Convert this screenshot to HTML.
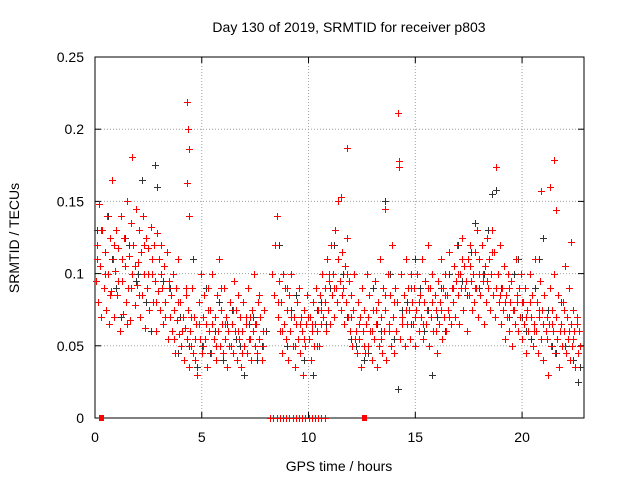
<!DOCTYPE html>
<html><head><meta charset="utf-8"><style>
body{margin:0;background:#fff;font-family:"Liberation Sans",sans-serif}
svg text{font-family:"Liberation Sans",sans-serif;font-size:14px;fill:#000}
</style></head><body>
<svg id="chart" width="640" height="480">
<g id="grid"></g>
<g id="axes"></g>
<g id="marks"></g>
<text x="349" y="32" text-anchor="middle">Day 130 of 2019, SRMTID for receiver p803</text>
<text x="339" y="471" text-anchor="middle">GPS time / hours</text>
<text x="0" y="0" text-anchor="middle" transform="translate(19,238) rotate(-90)">SRMTID / TECUs</text>
</svg>
<script>
const xTicks=[0,5,10,15,20];
const yTicks=[0,0.05,0.1,0.15,0.2,0.25];
const yTickLabels=["0","0.05","0.1","0.15","0.2","0.25"];
// red series as [hour, TECU] pairs
const redA=[[0.05,0.095],[0.1,0.12],[0.15,0.08],[0.2,0.148],[0.25,0.105],[0.3,0.07],[0.35,0.13],[0.4,0.09],[0.45,0.115],[0.5,0.075],[0.55,0.14],[0.6,0.1],[0.65,0.065],[0.7,0.125],[0.75,0.088],[0.8,0.165],[0.85,0.11],[0.9,0.07],[0.95,0.102],[1.0,0.13],[1.05,0.085],[1.1,0.118],[1.15,0.06],[1.2,0.14],[1.25,0.095],[1.3,0.072],[1.35,0.125],[1.4,0.105],[1.45,0.08],[1.5,0.15],[1.55,0.09],[1.6,0.112],[1.65,0.068],[1.7,0.135],[1.75,0.1],[1.8,0.12],[1.85,0.078],[1.9,0.145],[1.95,0.092],[2.0,0.108],[2.05,0.13],[2.1,0.07],[2.15,0.115],[2.2,0.085],[2.25,0.14],[2.3,0.1],[2.35,0.062],[2.4,0.125],[2.45,0.09],[2.5,0.118],[2.55,0.075],[2.6,0.132],[2.65,0.1],[2.7,0.08],[2.75,0.12],[2.8,0.095],[2.85,0.06],[2.9,0.128],[2.95,0.088],[3.0,0.11],[3.05,0.075],[3.1,0.12],[3.15,0.09],[3.2,0.065],[3.25,0.105],[3.3,0.08],[3.35,0.115],[3.4,0.055],[3.45,0.095],[3.5,0.07],[3.55,0.085],[3.6,0.06],[3.65,0.1],[3.7,0.075],[3.75,0.045],[3.8,0.09],[3.85,0.068],[3.9,0.11],[3.95,0.058],[4.0,0.08],[4.05,0.05],[4.1,0.07],[4.15,0.04],[4.2,0.062],[4.25,0.085],[4.3,0.055],[4.35,0.075],[4.4,0.035],[4.45,0.06],[4.5,0.05],[4.55,0.09],[4.6,0.045],[4.65,0.07],[4.7,0.04],[4.75,0.065],[4.8,0.03],[4.85,0.08],[4.9,0.055],[4.95,0.1],[5.0,0.045],[5.05,0.07],[5.1,0.085],[5.15,0.055],[5.2,0.065],[5.25,0.035],[5.3,0.09],[5.35,0.06],[5.4,0.075],[5.45,0.045],[5.5,0.1],[5.55,0.055],[5.6,0.07],[5.65,0.04],[5.7,0.085],[5.75,0.06],[5.8,0.11],[5.85,0.05],[5.9,0.075],[5.95,0.065],[6.0,0.045],[6.05,0.09],[6.1,0.055],[6.15,0.07],[6.2,0.035],[6.25,0.06],[6.3,0.08],[6.35,0.05],[6.4,0.065],[6.45,0.045],[6.5,0.095],[6.55,0.06],[6.6,0.075],[6.65,0.04],[6.7,0.085],[6.75,0.055],[6.8,0.07],[6.85,0.035],[6.9,0.06],[6.95,0.08],[7.0,0.05],[7.05,0.065],[7.1,0.045],[7.15,0.09],[7.2,0.055],[7.25,0.07],[7.3,0.04],[7.35,0.075],[7.4,0.06],[7.45,0.1],[7.5,0.05],[7.55,0.065],[7.6,0.045],[7.65,0.08],[7.7,0.055],[7.75,0.07],[7.8,0.04],[7.85,0.06],[7.9,0.075],[8.3,0.1],[8.4,0.085],[8.45,0.12],[8.5,0.14],[8.55,0.07],[8.6,0.095],[8.65,0.06],[8.7,0.08],[8.75,0.045],[8.8,0.1],[8.85,0.065],[8.9,0.09],[8.95,0.055],[9.0,0.075],[9.05,0.04],[9.1,0.085],[9.15,0.06],[9.2,0.1],[9.25,0.05],[9.3,0.07],[9.35,0.035],[9.4,0.065],[9.45,0.08],[9.5,0.055],[9.55,0.09],[9.6,0.045],[9.65,0.07],[9.7,0.06],[9.75,0.03],[9.8,0.075],[9.85,0.05],[9.9,0.065],[9.95,0.085],[10.0,0.055],[10.05,0.07],[10.1,0.04],[10.15,0.06],[10.2,0.08],[10.25,0.05],[10.3,0.065],[10.35,0.09],[10.4,0.06],[10.45,0.075],[10.5,0.05],[10.55,0.085],[10.6,0.065],[10.65,0.1],[10.7,0.07],[10.75,0.09],[10.8,0.06],[10.85,0.11],[10.9,0.075],[10.95,0.095],[11.0,0.065],[11.05,0.12],[11.1,0.085],[11.15,0.1],[11.2,0.07],[11.25,0.13],[11.3,0.09],[11.35,0.08],[11.4,0.15],[11.45,0.095],[11.5,0.075],[11.55,0.115],[11.6,0.09],[11.65,0.065],[11.7,0.105],[11.75,0.08],[11.8,0.125],[11.85,0.07],[11.9,0.095],[11.95,0.06],[12.0,0.085],[12.05,0.05],[12.1,0.075],[12.15,0.1],[12.2,0.06],[12.25,0.045],[12.3,0.08],[12.35,0.055],[12.4,0.07],[12.45,0.035],[12.5,0.09],[12.55,0.06],[12.6,0.075],[12.65,0.045],[12.7,0.065],[12.75,0.1],[12.8,0.05],[12.85,0.085],[12.9,0.06],[12.95,0.04],[13.0,0.075],[13.05,0.055],[13.1,0.095],[13.15,0.065],[13.2,0.035],[13.25,0.08],[13.3,0.05],[13.35,0.11],[13.4,0.07],[13.45,0.045],[13.5,0.09],[13.55,0.06],[13.6,0.075],[13.65,0.04],[13.7,0.1],[13.75,0.065],[13.8,0.085],[13.85,0.05],[13.9,0.12],[13.95,0.07],[14.0,0.045],[14.05,0.09],[14.1,0.06],[14.15,0.08],[14.3,0.055],[14.35,0.1],[14.4,0.07],[14.45,0.085],[14.5,0.05],[14.55,0.11],[14.6,0.065],[14.65,0.09],[14.7,0.075],[14.75,0.055],[14.8,0.1],[14.85,0.08],[14.9,0.065],[14.95,0.09],[15.0,0.05],[15.05,0.075],[15.1,0.1],[15.15,0.06],[15.2,0.085],[15.25,0.07],[15.3,0.11],[15.35,0.055],[15.4,0.08],[15.45,0.095],[15.5,0.065],[15.55,0.075],[15.6,0.12],[15.65,0.05],[15.7,0.09],[15.75,0.07],[15.8,0.1],[15.85,0.06],[15.9,0.085],[15.95,0.075],[16.0,0.045],[16.05,0.095],[16.1,0.065],[16.15,0.08],[16.2,0.11],[16.25,0.055],[16.3,0.09],[16.35,0.07],[16.4,0.1],[16.45,0.06],[16.5,0.085],[16.55,0.075],[16.6,0.115],[16.65,0.065],[16.7,0.09],[16.75,0.08],[16.8,0.105],[16.85,0.07],[16.9,0.095],[16.95,0.12],[17.0,0.085],[17.05,0.065],[17.1,0.1],[17.15,0.09],[17.2,0.125],[17.25,0.075],[17.3,0.105],[17.35,0.09],[17.4,0.06],[17.45,0.11],[17.5,0.085],[17.55,0.12],[17.6,0.095],[17.65,0.075],[17.7,0.1],[17.75,0.08],[17.8,0.115],[17.85,0.09],[17.9,0.13],[17.95,0.07],[18.0,0.1],[18.05,0.085],[18.1,0.12],[18.15,0.095],[18.2,0.065],[18.25,0.105],[18.3,0.08],[18.35,0.125],[18.4,0.09],[18.45,0.11],[18.5,0.075],[18.55,0.1],[18.6,0.13],[18.65,0.085],[18.7,0.115],[18.75,0.07],[18.85,0.1],[18.9,0.08],[18.95,0.12],[19.0,0.065],[19.05,0.09],[19.1,0.075],[19.15,0.105],[19.2,0.055],[19.25,0.085],[19.3,0.07],[19.35,0.1],[19.4,0.06],[19.45,0.08],[19.5,0.095],[19.55,0.05],[19.6,0.075],[19.65,0.065],[19.7,0.11],[19.75,0.08],[19.8,0.06],[19.85,0.09],[19.9,0.07],[19.95,0.1],[20.0,0.055],[20.05,0.08],[20.1,0.065],[20.15,0.09],[20.2,0.045],[20.25,0.075],[20.3,0.06],[20.35,0.1],[20.4,0.07],[20.45,0.085],[20.5,0.05],[20.55,0.065],[20.6,0.11],[20.65,0.06],[20.7,0.08],[20.75,0.045],[20.8,0.07],[20.85,0.095],[20.9,0.055],[20.95,0.075],[21.0,0.04],[21.05,0.085],[21.1,0.06],[21.15,0.07],[21.2,0.03],[21.25,0.065],[21.3,0.09],[21.35,0.05],[21.4,0.075],[21.45,0.06],[21.5,0.1],[21.55,0.045],[21.6,0.07],[21.65,0.055],[21.7,0.085],[21.75,0.035],[21.8,0.065],[21.85,0.05],[21.9,0.08],[21.95,0.06],[22.0,0.105],[22.05,0.045],[22.1,0.07],[22.15,0.055],[22.2,0.09],[22.25,0.04],[22.3,0.065],[22.35,0.05],[22.4,0.075],[22.45,0.06],[22.5,0.035],[22.55,0.07],[22.6,0.045],[22.65,0.06],[22.7,0.05]];
const redB=[[0.08,0.11],[0.28,0.13],[0.48,0.1],[0.68,0.085],[0.88,0.12],[1.08,0.095],[1.28,0.11],[1.48,0.065],[1.68,0.09],[1.88,0.105],[2.08,0.085],[2.28,0.12],[2.48,0.1],[2.68,0.11],[2.88,0.08],[3.08,0.1],[3.28,0.07],[3.48,0.09],[3.68,0.055],[3.88,0.08],[4.08,0.06],[4.28,0.09],[4.48,0.07],[4.68,0.055],[4.88,0.065],[5.08,0.05],[5.28,0.075],[5.48,0.065],[5.68,0.05],[5.88,0.09],[6.08,0.065],[6.28,0.05],[6.48,0.075],[6.68,0.06],[6.88,0.045],[7.08,0.07],[7.28,0.055],[7.48,0.065],[7.68,0.085],[7.88,0.05],[8.58,0.08],[8.78,0.06],[8.98,0.09],[9.18,0.07],[9.38,0.05],[9.58,0.065],[9.78,0.055],[9.98,0.07],[10.18,0.065],[10.38,0.05],[10.58,0.075],[10.78,0.08],[10.98,0.1],[11.18,0.09],[11.38,0.11],[11.58,0.085],[11.78,0.1],[11.98,0.07],[12.18,0.055],[12.38,0.065],[12.58,0.05],[12.78,0.07],[12.98,0.06],[13.18,0.075],[13.38,0.055],[13.58,0.085],[13.78,0.06],[13.98,0.08],[14.38,0.065],[14.58,0.075],[14.78,0.09],[14.98,0.07],[15.18,0.08],[15.38,0.065],[15.58,0.09],[15.78,0.08],[15.98,0.06],[16.18,0.075],[16.38,0.085],[16.58,0.07],[16.78,0.09],[16.98,0.1],[17.18,0.11],[17.38,0.095],[17.58,0.105],[17.78,0.09],[17.98,0.11],[18.18,0.1],[18.38,0.095],[18.58,0.115],[18.78,0.09],[18.98,0.085],[19.18,0.08],[19.38,0.09],[19.58,0.075],[19.78,0.085],[19.98,0.08],[20.18,0.07],[20.38,0.08],[20.58,0.06],[20.78,0.075],[20.98,0.065],[21.18,0.055],[21.38,0.065],[21.58,0.07],[21.78,0.06],[21.98,0.075],[22.18,0.06],[22.38,0.055],[22.58,0.065]];
const redOutliers=[[4.3,0.219],[4.35,0.2],[4.38,0.186],[4.32,0.163],[4.4,0.14],[14.2,0.211],[14.22,0.178],[14.25,0.174],[18.8,0.174],[21.5,0.179],[20.9,0.157],[11.8,0.187],[1.75,0.181],[21.3,0.16],[21.6,0.144],[22.3,0.122],[11.5,0.153],[13.6,0.145]];
const redZeros=[0.3,12.6];
const blackPts=[[0.1,0.13],[0.4,0.09],[0.8,0.11],[1.2,0.07],[1.6,0.12],[2.0,0.1],[2.4,0.08],[2.8,0.175],[3.2,0.095],[3.6,0.06],[4.0,0.07],[4.4,0.05],[4.8,0.035],[5.2,0.09],[5.6,0.06],[6.0,0.04],[6.4,0.075],[6.8,0.05],[7.2,0.065],[7.6,0.04],[8.0,0.06],[8.6,0.12],[9.0,0.05],[9.4,0.085],[9.8,0.04],[10.2,0.03],[10.6,0.08],[11.0,0.09],[11.4,0.11],[11.8,0.07],[12.2,0.05],[12.6,0.04],[13.0,0.09],[13.4,0.06],[13.8,0.1],[14.2,0.02],[14.6,0.08],[15.0,0.11],[15.4,0.06],[15.8,0.03],[16.2,0.09],[16.6,0.1],[17.0,0.12],[17.4,0.085],[17.8,0.135],[18.2,0.1],[18.6,0.155],[19.0,0.09],[19.4,0.07],[19.8,0.11],[20.2,0.06],[20.6,0.09],[21.0,0.125],[21.4,0.05],[21.8,0.08],[22.2,0.06],[22.6,0.025],[0.6,0.14],[1.4,0.125],[2.2,0.165],[2.9,0.16],[3.5,0.09],[4.6,0.11],[5.4,0.045],[6.2,0.065],[7.0,0.03],[7.8,0.05],[8.8,0.1],[9.6,0.065],[10.4,0.075],[11.2,0.12],[12.0,0.055],[12.8,0.045],[13.6,0.15],[14.4,0.075],[15.2,0.09],[16.0,0.07],[16.8,0.105],[17.6,0.115],[18.4,0.13],[18.8,0.158],[19.2,0.08],[20.0,0.07],[20.8,0.11],[21.6,0.045],[22.4,0.04],[22.7,0.035],[0.3,0.07],[1.0,0.09],[1.9,0.095],[2.6,0.06],[3.9,0.045],[5.0,0.05],[5.8,0.08],[6.6,0.055],[7.4,0.07],[9.2,0.075],[10.0,0.055],[10.8,0.065],[11.6,0.1],[12.4,0.07],[13.2,0.065],[14.0,0.055],[14.8,0.065],[15.6,0.075],[16.4,0.06],[17.2,0.095],[18.0,0.09],[19.6,0.1],[20.4,0.055],[21.2,0.075],[22.0,0.05]];
const zeroRun=[8.2,8.35,8.5,8.65,8.8,8.95,9.1,9.25,9.4,9.55,9.7,9.85,10.0,10.15,10.3,10.45,10.6,10.75];
const X0=95,X1=584,Y0=418,Y1=57,XMAX=22.9,YMAX=0.25;
const xs=t=>X0+t/XMAX*(X1-X0);
const ys=v=>Y0-v/YMAX*(Y0-Y1);
const NS="http://www.w3.org/2000/svg";
function mk(tag,attrs,parent){const e=document.createElementNS(NS,tag);for(const k in attrs)e.setAttribute(k,attrs[k]);parent.appendChild(e);return e;}
const grid=document.getElementById('grid'),axes=document.getElementById('axes'),marks=document.getElementById('marks');
xTicks.forEach((t,i)=>{const x=xs(t);
 if(t>0){const g=mk('line',{x1:x,x2:x,y1:Y1,y2:Y0,stroke:'#a0a0a0','stroke-dasharray':'1,2'},grid);
 
 }
 mk('line',{x1:x,x2:x,y1:Y0,y2:Y0-6,stroke:'#000'},axes);mk('line',{x1:x,x2:x,y1:Y1,y2:Y1+6,stroke:'#000'},axes);
 const l=mk('text',{x:x,y:Y0+24,'text-anchor':'middle'},axes);l.textContent=String(t);
 
 });
yTicks.forEach((v,i)=>{const y=ys(v);
 if(v>0&&v<YMAX){const g=mk('line',{x1:X0,x2:X1,y1:y,y2:y,stroke:'#a0a0a0','stroke-dasharray':'1,2'},grid);
 
 }
 mk('line',{x1:X0,x2:X0+6,y1:y,y2:y,stroke:'#000'},axes);mk('line',{x1:X1,x2:X1-6,y1:y,y2:y,stroke:'#000'},axes);
 const l=mk('text',{x:X0-11,y:y+5,'text-anchor':'end'},axes);l.textContent=yTickLabels[i];
 
 });
const fr=mk('rect',{x:X0,y:Y1,width:X1-X0,height:Y0-Y1,fill:'none',stroke:'#000'},axes);


function plus(t,v,c,name){const x=Math.round(xs(t))+0.5,y=Math.round(ys(v))+0.5;
 const p=mk('path',{d:`M${x-3.5},${y}H${x+3.5}M${x},${y-3.5}V${y+3.5}`,stroke:c,'stroke-width':1},marks);
 
 }
blackPts.forEach(p=>plus(p[0],p[1],'#333','black-point'));
redA.forEach(p=>plus(p[0],p[1],'#ff0000','red-point'));
redB.forEach(p=>plus(p[0],p[1],'#ff0000','red-point'));
redOutliers.forEach(p=>plus(p[0],p[1],'#ff0000','red-outlier'));
zeroRun.forEach(t=>plus(t,0,'#ff0000','zero-point'));
redZeros.forEach(t=>{const x=Math.round(xs(t));
 const r=mk('rect',{x:x-2,y:Y0-3,width:5,height:6,fill:'#ff0000'},marks);
 
 });
</script>
</body></html>
